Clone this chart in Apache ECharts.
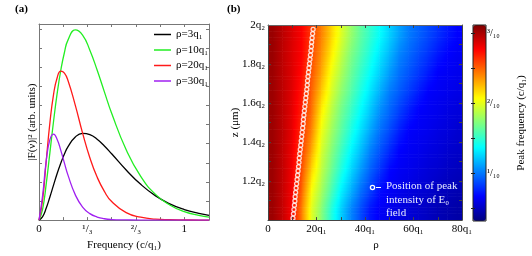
<!DOCTYPE html>
<html><head><meta charset="utf-8">
<script src="https://cdn.jsdelivr.net/npm/echarts@6/dist/echarts.min.js"></script>
<style>html,body{margin:0;padding:0;background:#fff}#c{width:532px;height:256px}</style>
</head><body><div id="c"></div>
<script>
// ---- panel (a) data ----
const freq  = [0,0.025,0.05,0.075,0.1,0.125,0.15,0.175,0.2,0.25,0.3,0.35,0.4,0.45,0.5,0.6,0.7,0.8,0.9,1.0,1.1,1.17];
const rho3  = [0,0.185,0.632,1.21,1.83,2.44,2.98,3.46,3.84,4.35,4.54,4.47,4.23,3.88,3.47,2.62,1.87,1.28,0.85,0.55,0.35,0.25];
const rho10 = [0,0.58,1.91,3.53,5.16,6.63,7.84,8.77,9.43,9.95,9.68,8.89,7.85,6.71,5.59,3.68,2.29,1.36,0.79,0.44,0.245,0.16];
const rho20 = [0,1.07,3.12,5.09,6.57,7.45,7.79,7.69,7.29,6.00,4.55,3.26,2.25,1.50,0.97,0.39,0.15,0.05,0.02,0.01,0.00,0.00];
const rho30 = [0,1.30,3.12,4.21,4.50,4.22,3.65,2.98,2.34,1.32,0.68,0.34,0.16,0.07,0.03,0.01,0,0,0,0,0,0];
const seriesNames = ['ρ=3q₁','ρ=10q₁','ρ=20q₁','ρ=30q₁'];
const freqLabelValues = [0, 1/3, 2/3, 1];
const freqLabelTexts  = ['0','¹/₃','²/₃','1'];
const freqTickValues  = [1/6, 2/6, 3/6, 4/6, 5/6, 1];
const intensityTickValues = [1,2,3,4,5,6,7,8,9,10];

// ---- panel (b) data ----
const rhoCenters = [2,6,10,14,18,22,26,30,34,38,42,46,50,54,58,62,66,70,74,78];
const zCenters = [1.05,1.15,1.25,1.35,1.45,1.55,1.65,1.75,1.85,1.95];
const peakFreq = [
 [0.304,0.293,0.278,0.242,0.199,0.175,0.148,0.125,0.105,0.089,0.073,0.065,0.062,0.059,0.056,0.053,0.050,0.047,0.045,0.043],
 [0.304,0.293,0.279,0.249,0.206,0.183,0.159,0.135,0.117,0.099,0.085,0.070,0.065,0.062,0.059,0.056,0.054,0.050,0.048,0.046],
 [0.304,0.294,0.280,0.255,0.218,0.190,0.168,0.146,0.127,0.110,0.094,0.081,0.068,0.064,0.062,0.059,0.056,0.054,0.051,0.049],
 [0.304,0.294,0.281,0.260,0.230,0.196,0.175,0.155,0.136,0.120,0.103,0.090,0.078,0.067,0.064,0.062,0.059,0.057,0.054,0.052],
 [0.304,0.295,0.283,0.264,0.240,0.203,0.182,0.163,0.145,0.129,0.113,0.098,0.087,0.075,0.066,0.064,0.062,0.059,0.057,0.054],
 [0.304,0.295,0.284,0.268,0.246,0.211,0.189,0.169,0.153,0.137,0.122,0.106,0.095,0.084,0.074,0.066,0.064,0.062,0.059,0.057],
 [0.304,0.295,0.285,0.271,0.250,0.222,0.197,0.177,0.161,0.145,0.130,0.115,0.101,0.092,0.083,0.074,0.066,0.064,0.062,0.060],
 [0.304,0.295,0.286,0.274,0.254,0.231,0.204,0.185,0.167,0.152,0.138,0.124,0.110,0.098,0.090,0.082,0.074,0.066,0.064,0.062],
 [0.305,0.295,0.286,0.277,0.258,0.237,0.213,0.192,0.173,0.159,0.145,0.131,0.118,0.104,0.096,0.088,0.081,0.073,0.067,0.064],
 [0.305,0.296,0.287,0.278,0.261,0.242,0.220,0.199,0.180,0.164,0.151,0.138,0.125,0.112,0.101,0.094,0.087,0.080,0.073,0.067]
];
const peakRho = [10.3,10.5,10.7,10.9,11.1,11.2,11.4,11.6,11.8,12.0,12.2,12.4,12.6,12.8,12.9,13.1,13.3,13.5,13.7,13.9,14.1,14.3,14.5,14.6,14.8,15.0,15.2,15.4,15.6,15.8,16.0,16.2,16.3,16.5,16.7,16.9,17.1,17.3,17.5,17.7,17.9,18.0,18.2,18.4,18.6];
const peakZ = [1.010,1.032,1.054,1.076,1.098,1.120,1.142,1.164,1.186,1.208,1.230,1.252,1.274,1.296,1.318,1.340,1.362,1.384,1.406,1.428,1.450,1.472,1.494,1.516,1.538,1.560,1.582,1.604,1.626,1.648,1.670,1.692,1.714,1.736,1.758,1.780,1.802,1.824,1.846,1.868,1.890,1.912,1.934,1.956,1.978];
const rhoLabelValues = [0,20,40,60,80];
const rhoTickValues = [10,20,30,40,50,60,70];
const zLabelValues = [1.2,1.4,1.6,1.8,2.0];
const zTickValues = [1.1,1.2,1.3,1.4,1.5,1.6,1.7,1.8,1.9];
const cbLabelValues = [0.1,0.2,0.3];
const cbLabelTexts = ['¹/₁₀','²/₁₀','³/₁₀'];
const cbTickValues = [0.05,0.1,0.15,0.2,0.25,0.3];
const cbMin = 0.032, cbMax = 0.312;
const rhoMin = 0, rhoMax = 80, zMin = 1, zMax = 2;

const FONT = "'Liberation Serif','DejaVu Serif',serif";
const jet = ['#00007f','#0000ff','#007fff','#00ffff','#7fff7f','#ffff00','#ff7f00','#ff0000','#7f0000'];
const lineColors = ['#000000','#22ee22','#ff1a1a','#a020f0'];
const curves = [rho3, rho10, rho20, rho30];

// Shaded quads between neighbouring grid samples (edges held flat), like gouraud shading
const xEdges = [rhoMin, ...rhoCenters, rhoMax];
const zEdges = [zMin, ...zCenters, zMax];
const clampI = (k, n) => Math.max(0, Math.min(n - 1, k - 1));
const heatData = [];
for (let a = 0; a < zEdges.length - 1; a++) {
  const iLo = clampI(a, zCenters.length), iHi = clampI(a + 1, zCenters.length);
  for (let b = 0; b < xEdges.length - 1; b++) {
    const jL = clampI(b, rhoCenters.length), jR = clampI(b + 1, rhoCenters.length);
    heatData.push([xEdges[b], xEdges[b + 1], zEdges[a], zEdges[a + 1],
                   peakFreq[iLo][jL], peakFreq[iLo][jR], peakFreq[iHi][jL], peakFreq[iHi][jR]]);
  }
}
function colorOf(v) {
  const t = Math.max(0, Math.min(1, (v - cbMin) / (cbMax - cbMin)));
  return echarts.color.lerp(t, jet);
}

const axisGray = '#777';
const lab = {fontFamily: FONT, fontSize: 11, color: '#000'};

function fracLabel(v){
  for (let i = 0; i < freqLabelValues.length; i++) if (Math.abs(v - freqLabelValues[i]) < 1e-6) return freqLabelTexts[i];
  return '';
}
function cbLabel(v){
  for (let i = 0; i < cbLabelValues.length; i++) if (Math.abs(v - cbLabelValues[i]) < 1e-6) return cbLabelTexts[i];
  return '';
}

const chart = echarts.init(document.getElementById('c'), null, {renderer: 'canvas'});
const option = {
  animation: false,
  backgroundColor: '#fff',
  textStyle: {fontFamily: FONT},
  grid: [
    {left: 39, top: 24, width: 170, height: 198, show: false},
    {left: 268, top: 25, width: 194, height: 196, show: false},
    {left: 473, top: 25, width: 13, height: 196, show: false}
  ],
  xAxis: [
    {gridIndex: 0, type: 'value', min: 0, max: 1.17, position: 'bottom',
     axisLine: {show: true, onZero: false, lineStyle: {color: axisGray}},
     axisTick: {show: true, inside: true, length: 3, customValues: freqTickValues, lineStyle: {color: axisGray}},
     axisLabel: {customValues: freqLabelValues, formatter: fracLabel, margin: 4, ...lab},
     splitLine: {show: false},
     name: 'Frequency (c/q₁)', nameLocation: 'middle', nameGap: 14, nameTextStyle: lab},
    {gridIndex: 0, type: 'value', min: 0, max: 1.17, position: 'top',
     axisLine: {show: true, onZero: false, lineStyle: {color: axisGray}},
     axisTick: {show: true, inside: true, length: 3, customValues: freqTickValues, lineStyle: {color: axisGray}},
     axisLabel: {show: false}, splitLine: {show: false}},
    {gridIndex: 1, type: 'value', min: rhoMin, max: rhoMax, position: 'bottom', z: 10,
     axisLine: {show: true, onZero: false, lineStyle: {color: '#444'}},
     axisTick: {show: true, inside: true, length: 3, customValues: rhoTickValues, lineStyle: {color: '#444'}},
     axisLabel: {customValues: rhoLabelValues, formatter: v => v === 0 ? '0' : v + 'q₁', margin: 4, ...lab},
     splitLine: {show: false},
     name: 'ρ', nameLocation: 'middle', nameGap: 13, nameTextStyle: {...lab, padding: [0, 0, 0, 22]}},
    {gridIndex: 1, type: 'value', min: rhoMin, max: rhoMax, position: 'top', z: 10,
     axisLine: {show: true, onZero: false, lineStyle: {color: '#666'}},
     axisTick: {show: true, inside: true, length: 3, customValues: rhoTickValues, lineStyle: {color: '#444'}},
     axisLabel: {show: false}, splitLine: {show: false}},
    {gridIndex: 2, type: 'value', min: 0, max: 1, show: false}
  ],
  yAxis: [
    {gridIndex: 0, type: 'value', min: 0, max: 10.26, position: 'left',
     axisLine: {show: true, onZero: false, lineStyle: {color: axisGray}},
     axisTick: {show: true, inside: true, length: 3, customValues: intensityTickValues, lineStyle: {color: axisGray}},
     axisLabel: {show: false}, splitLine: {show: false},
     name: '|F(ν)|² (arb. units)', nameLocation: 'middle', nameGap: 1, nameRotate: 90, nameTextStyle: lab},
    {gridIndex: 0, type: 'value', min: 0, max: 10.26, position: 'right',
     axisLine: {show: true, onZero: false, lineStyle: {color: axisGray}},
     axisTick: {show: true, inside: true, length: 3, customValues: intensityTickValues, lineStyle: {color: axisGray}},
     axisLabel: {show: false}, splitLine: {show: false}},
    {gridIndex: 1, type: 'value', min: zMin, max: zMax, position: 'left', z: 10,
     axisLine: {show: true, onZero: false, lineStyle: {color: '#444'}},
     axisTick: {show: true, inside: true, length: 3, customValues: zTickValues, lineStyle: {color: '#444'}},
     axisLabel: {customValues: zLabelValues, formatter: v => (Math.abs(v - 2) < 1e-6 ? '2' : v.toFixed(1)) + 'q₂', margin: 3, ...lab},
     splitLine: {show: false},
     name: 'z (μm)', nameLocation: 'middle', nameGap: 27, nameRotate: 90, nameMoveOverlap: false, nameTextStyle: lab},
    {gridIndex: 1, type: 'value', min: zMin, max: zMax, position: 'right', z: 10,
     axisLine: {show: true, onZero: false, lineStyle: {color: '#444'}},
     axisTick: {show: true, inside: true, length: 3, customValues: zTickValues, lineStyle: {color: '#444'}},
     axisLabel: {show: false}, splitLine: {show: false}},
    {gridIndex: 2, type: 'value', min: cbMin, max: cbMax, position: 'right', z: 10,
     axisLine: {show: false},
     axisTick: {show: true, inside: true, length: 2, customValues: cbTickValues, lineStyle: {color: '#222'}},
     axisLabel: {customValues: cbLabelValues, formatter: cbLabel, margin: 1, ...lab, fontSize: 10},
     splitLine: {show: false},
     name: 'Peak frequency (c/q₁)', nameLocation: 'middle', nameGap: 30, nameRotate: 90, nameTextStyle: lab},
    {gridIndex: 2, type: 'value', min: cbMin, max: cbMax, position: 'left', z: 10,
     axisLine: {show: false},
     axisTick: {show: true, inside: true, length: 2, customValues: cbTickValues, lineStyle: {color: '#222'}},
     axisLabel: {show: false}, splitLine: {show: false}}
  ],
  visualMap: [{
    type: 'continuous', min: cbMin, max: cbMax, dimension: 4, seriesIndex: 4,
    orient: 'vertical', left: 473, top: 25, itemWidth: 13, itemHeight: 196,
    padding: 0, calculable: false, hoverLink: false, text: null,
    inRange: {color: jet}
  }],
  legend: {
    data: seriesNames, orient: 'vertical', left: 149, top: 24,
    icon: 'rect', itemWidth: 17, itemHeight: 1.5, itemGap: 4.5,
    textStyle: {fontFamily: FONT, fontSize: 11, color: '#000'}
  },
  series: [
    ...curves.map((c, k) => ({
      type: 'line', name: seriesNames[k], xAxisIndex: 0, yAxisIndex: 0,
      data: freq.map((f, i) => [f, c[i]]),
      showSymbol: false, symbol: 'none', smooth: 0.5,
      lineStyle: {color: lineColors[k], width: 1.3}, itemStyle: {color: lineColors[k]},
      z: 3 + k
    })),
    {
      type: 'custom', xAxisIndex: 2, yAxisIndex: 2, clip: true,
      encode: {x: [0, 1], y: [2, 3]},
      data: heatData,
      renderItem: function (params, api) {
        const x0 = api.value(0), x1 = api.value(1), zl = api.value(2), zh = api.value(3);
        const v00 = api.value(4), v10 = api.value(5), v01 = api.value(6), v11 = api.value(7);
        const pTop = api.coord([x0, zh]), pBot = api.coord([x1, zl]);
        const w = pBot[0] - pTop[0], h = pBot[1] - pTop[1];
        const nSub = Math.max(1, Math.round(h / 3));
        const children = [];
        for (let s = 0; s < nSub; s++) {
          const fz = 1 - (s + 0.5) / nSub;
          const vl = v00 + (v01 - v00) * fz, vr = v10 + (v11 - v10) * fz;
          const stops = [0, 0.25, 0.5, 0.75, 1].map(q => ({offset: q, color: colorOf(vl + (vr - vl) * q)}));
          children.push({type: 'rect',
            shape: {x: pTop[0] - 0.3, y: pTop[1] + h * s / nSub - 0.3, width: w + 0.6, height: h / nSub + 0.6},
            style: {fill: new echarts.graphic.LinearGradient(0, 0, 1, 0, stops)}});
        }
        return {type: 'group', children};
      },
      z: 1
    },
    {
      type: 'scatter', xAxisIndex: 2, yAxisIndex: 2,
      data: peakRho.map((r, i) => [r, peakZ[i]]),
      symbol: 'circle', symbolSize: 4,
      itemStyle: {color: 'rgba(255,0,0,0)', borderColor: '#fff', borderWidth: 1.3},
      z: 5, silent: true
    }
  ],
  graphic: [
    {type: 'text', left: 15, top: 4, style: {text: '(a)', font: 'bold 11px ' + FONT, fill: '#000'}},
    {type: 'text', left: 227, top: 4, style: {text: '(b)', font: 'bold 11px ' + FONT, fill: '#000'}},
    {type: 'rect', shape: {x: 473, y: 25, width: 13, height: 196}, style: {fill: 'none', stroke: '#222', lineWidth: 1}, z: 100},
    {type: 'circle', shape: {cx: 372.5, cy: 187.5, r: 2.1}, style: {fill: 'none', stroke: '#fff', lineWidth: 1.3}, z: 100},
    {type: 'line', shape: {x1: 376, y1: 187.5, x2: 381, y2: 187.5}, style: {stroke: '#fff', lineWidth: 1}, z: 100},
    {type: 'text', left: 386, top: 181, style: {text: 'Position of peak', font: '11px ' + FONT, fill: '#e8ecff'}, z: 100},
    {type: 'text', left: 386, top: 194.5, style: {text: 'intensity of E₀', font: '11px ' + FONT, fill: '#e8ecff'}, z: 100},
    {type: 'text', left: 386, top: 208, style: {text: 'field', font: '11px ' + FONT, fill: '#e8ecff'}, z: 100}
  ]
};
chart.setOption(option);
</script></body></html>
